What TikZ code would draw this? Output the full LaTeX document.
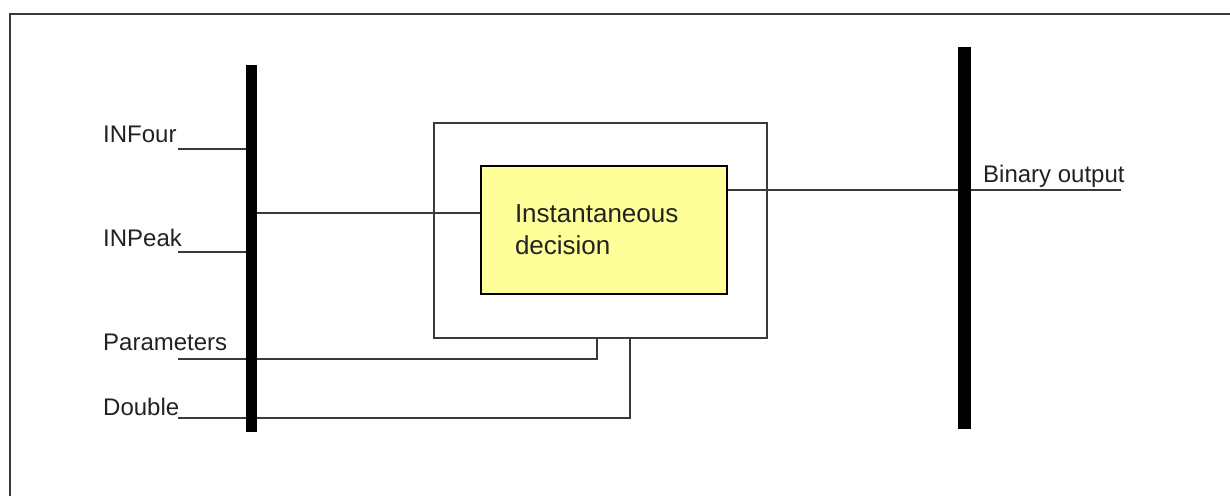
\documentclass[tikz,border=0pt]{standalone}
\usepackage{fontspec}
\setmainfont{Liberation Sans}
\usetikzlibrary{backgrounds}
\definecolor{wire}{HTML}{3A3A3A}
\definecolor{boxyellow}{HTML}{FFFF99}
\definecolor{txt}{HTML}{222222}
\begin{document}
\begin{tikzpicture}[x=1pt,y=-1pt,
  wireline/.style={draw=wire,line width=1.5pt},
  busbar/.style={fill=black,draw=none,inner sep=0pt,rectangle},
  lbl/.style={anchor=base west,inner sep=0pt,text=txt,font=\fontsize{24}{29}\selectfont},
  outerbox/.style={draw=wire,line width=1.6pt,fill=none,inner sep=0pt,minimum width=333pt,minimum height=215pt},
  decbox/.style={draw=black,line width=2pt,fill=boxyellow,inner xsep=34pt,inner ysep=0pt,text width=178pt,align=left,minimum height=128pt,text=txt,font=\fontsize{26}{32}\selectfont}
]
\useasboundingbox (0,0) rectangle (1230,496);
% frame (only top and left edges are visible)
\draw[draw=wire,line width=1.5pt] (10,496) -- (10,14) -- (1230,14);

% bars and boxes
\node[busbar,minimum width=11pt,minimum height=367pt] (lbar) at (251.5,248.5) {};
\node[busbar,minimum width=13pt,minimum height=382pt] (rbar) at (964,238) {};
\node[outerbox] (outer) at (600.5,230.5) {};
\node[decbox] (dec) at (604,230) {Instantaneous\\decision};

% labels
\node[lbl] (tfour) at (103,142) {INFour};
\node[lbl] (tpeak) at (103,246) {INPeak};
\node[lbl] (tpar) at (103,350) {Parameters};
\node[lbl] (tdbl) at (103,415) {Double};
\node[lbl] (tbin) at (983,182) {Binary output};

% connector end points
\coordinate (c1) at (178,149);
\coordinate (c2) at (178,252);
\coordinate (c3) at (178,359);
\coordinate (c4) at (178,418);
\coordinate (cm) at (258,213);
\coordinate (pj) at (597,338);
\coordinate (dj) at (630,338);
\coordinate (ob) at (1121,190);

\begin{scope}[on background layer]
\draw[wireline] (c1) -- (c1 -| lbar.west);
\draw[wireline] (c2) -- (c2 -| lbar.west);
\draw[wireline] (cm -| lbar.east) -- (cm -| dec.west);
\draw[wireline] (c3) -| (pj);
\draw[wireline] (c4) -| (dj);
\draw[wireline] (ob -| dec.east) -- (ob);
\end{scope}
\end{tikzpicture}
\end{document}
